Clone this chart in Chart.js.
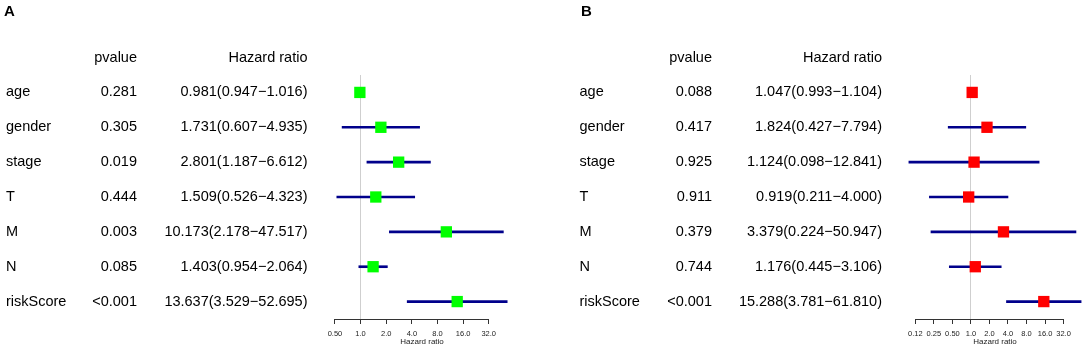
<!DOCTYPE html>
<html>
<head>
<meta charset="utf-8">
<script src="https://cdn.jsdelivr.net/npm/chart.js@4/dist/chart.umd.min.js"></script>
<style>
    html, body { margin: 0; padding: 0; background: #fff; overflow: hidden; width: 1084px; height: 346px; }
    canvas { position: absolute; top: 0; }
    #forest-a { left: 0; }
    #forest-b { left: 540px; }
</style>
</head>
<body>
<canvas id="forest-a" width="540" height="346"></canvas>
<canvas id="forest-b" width="560" height="346"></canvas>
<script>
// Datos del panel A
const namesA = ['age', 'gender', 'stage', 'T', 'M', 'N', 'riskScore'];
const pvalA = ['0.281', '0.305', '0.019', '0.444', '0.003', '0.085', '<0.001'];
const hrA = [0.981, 1.731, 2.801, 1.509, 10.173, 1.403, 13.637];
const lowA = [0.947, 0.607, 1.187, 0.526, 2.178, 0.954, 3.529];
const highA = [1.016, 4.935, 6.612, 4.323, 47.517, 2.064, 52.695];
const tickValsA = [0.5, 1, 2, 4, 8, 16, 32];
const tickLabelsA = ['0.50', '1.0', '2.0', '4.0', '8.0', '16.0', '32.0'];

// Datos del panel B
const namesB = ['age', 'gender', 'stage', 'T', 'M', 'N', 'riskScore'];
const pvalB = ['0.088', '0.417', '0.925', '0.911', '0.379', '0.744', '<0.001'];
const hrB = [1.047, 1.824, 1.124, 0.919, 3.379, 1.176, 15.288];
const lowB = [0.993, 0.427, 0.098, 0.211, 0.224, 0.445, 3.781];
const highB = [1.104, 7.794, 12.841, 4.000, 50.947, 3.106, 61.810];
const tickValsB = [0.125, 0.25, 0.5, 1, 2, 4, 8, 16, 32];
const tickLabelsB = ['0.12', '0.25', '0.50', '1.0', '2.0', '4.0', '8.0', '16.0', '32.0'];

const FONT = "'Liberation Sans', Arial, sans-serif";

function makeForest(id, cfg) {
    // rango x como en R: rango de los IC con 4% extra (escala log)
    const lo2 = Math.log2(Math.min(...cfg.low));
    const hi2 = Math.log2(Math.max(...cfg.high));
    const ext = (hi2 - lo2) * 0.04;

    const tablePlugin = {
        id: 'table',
        afterDraw(chart) {
            const ctx = chart.ctx;
            const y = chart.scales.y;
            const x = chart.scales.x;
            const band = y.getPixelForValue(1) - y.getPixelForValue(0);
            const headY = y.getPixelForValue(0) - band;
            ctx.save();

            // línea del eje solo entre la primera y la última marca
            const bottom = chart.chartArea.bottom;
            ctx.strokeStyle = '#333';
            ctx.lineWidth = 1;
            ctx.beginPath();
            ctx.moveTo(x.getPixelForValue(cfg.ticks[0]), bottom + 0.5);
            ctx.lineTo(x.getPixelForValue(cfg.ticks[cfg.ticks.length - 1]), bottom + 0.5);
            ctx.stroke();

            ctx.fillStyle = '#000';
            ctx.textBaseline = 'middle';
            ctx.font = 'bold 15px ' + FONT;
            ctx.textAlign = 'left';
            ctx.fillText(cfg.letter, cfg.letterX, 12);

            ctx.font = '14.5px ' + FONT;
            ctx.textAlign = 'right';
            ctx.fillText('pvalue', cfg.pvalX, headY);
            ctx.fillText('Hazard ratio', cfg.hrX, headY);
            cfg.names.forEach((name, i) => {
                const yy = y.getPixelForValue(i);
                ctx.textAlign = 'left';
                ctx.fillText(name, cfg.nameX, yy);
                ctx.textAlign = 'right';
                ctx.fillText(cfg.pval[i], cfg.pvalX, yy);
                const txt = cfg.hr[i].toFixed(3) + '(' + cfg.low[i].toFixed(3) + '\u2212' + cfg.high[i].toFixed(3) + ')';
                ctx.fillText(txt, cfg.hrX, yy);
            });
            ctx.restore();
        }
    };

    return new Chart(document.getElementById(id), {
        type: 'bar',
        data: {
            labels: cfg.names,
            datasets: [
                {
                    type: 'scatter',
                    data: cfg.names.map((n, i) => ({ x: cfg.hr[i], y: n })),
                    pointStyle: 'rect',
                    pointRadius: 8,
                    pointHoverRadius: 8,
                    borderWidth: 0,
                    backgroundColor: cfg.color,
                    order: 0
                },
                {
                    data: cfg.names.map((n, i) => [cfg.low[i], cfg.high[i]]),
                    backgroundColor: '#00008B',
                    barThickness: 2,
                    borderSkipped: false,
                    order: 1
                }
            ]
        },
        options: {
            indexAxis: 'y',
            responsive: false,
            animation: false,
            events: [],
            layout: {
                padding: { top: 75, left: cfg.left, right: cfg.right, bottom: 0 }
            },
            plugins: {
                legend: { display: false },
                tooltip: { enabled: false }
            },
            scales: {
                y: {
                    type: 'category',
                    display: false,
                    offset: true
                },
                x: {
                    type: 'logarithmic',
                    min: Math.pow(2, lo2 - ext),
                    max: Math.pow(2, hi2 + ext),
                    afterBuildTicks: (scale) => {
                        scale.ticks = cfg.ticks.map(v => ({ value: v }));
                    },
                    border: { display: false },
                    grid: {
                        drawOnChartArea: true,
                        color: (c) => (c.tick && c.tick.value === 1) ? '#cfcfcf' : 'rgba(0,0,0,0)',
                        tickColor: '#333',
                        tickLength: 5,
                        lineWidth: 1
                    },
                    ticks: {
                        autoSkip: false,
                        maxRotation: 0,
                        padding: 6,
                        color: '#222',
                        font: { family: FONT, size: 7.5, lineHeight: 1 },
                        callback: (v, i) => cfg.tickLabels[i]
                    },
                    title: {
                        display: true,
                        text: 'Hazard ratio',
                        color: '#222',
                        padding: { top: -5.5, bottom: 0 },
                        font: { family: FONT, size: 8, lineHeight: 1 }
                    }
                }
            }
        },
        plugins: [tablePlugin]
    });
}

makeForest('forest-a', {
    letter: 'A', letterX: 4, nameX: 6, pvalX: 137, hrX: 307.5,
    left: 330, right: 26,
    names: namesA, pval: pvalA, hr: hrA, low: lowA, high: highA,
    ticks: tickValsA, tickLabels: tickLabelsA, color: '#00FF00'
});

makeForest('forest-b', {
    letter: 'B', letterX: 41, nameX: 39.5, pvalX: 172, hrX: 342,
    left: 362, right: 12,
    names: namesB, pval: pvalB, hr: hrB, low: lowB, high: highB,
    ticks: tickValsB, tickLabels: tickLabelsB, color: '#FF0000'
});
</script>
</body>
</html>
